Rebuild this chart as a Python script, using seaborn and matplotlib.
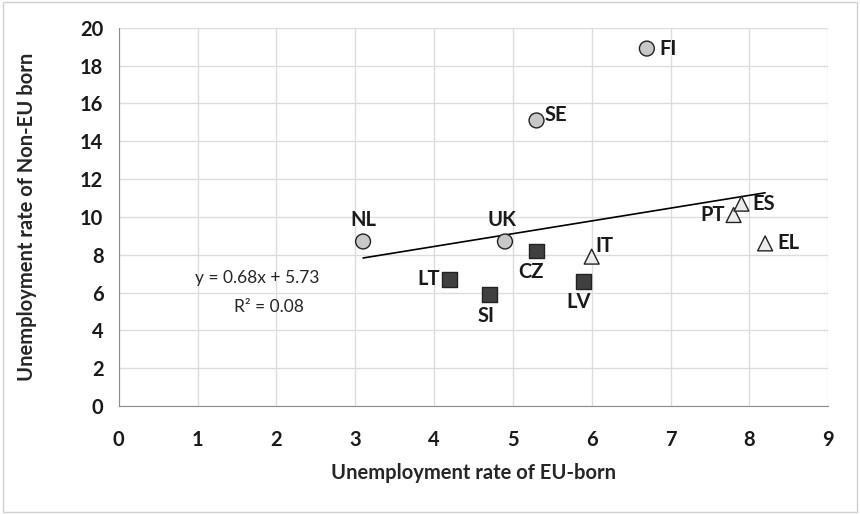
import numpy as np
import pandas as pd
import seaborn as sns
import matplotlib.pyplot as plt

# values
countries = ["FI", "SE", "NL", "UK", "CZ", "LT", "SI", "LV", "IT", "PT", "ES", "EL"]
eu_born = [6.7, 5.3, 3.1, 4.9, 5.3, 4.2, 4.7, 5.9, 6.0, 7.8, 7.9, 8.2]
non_eu_born = [18.9, 15.1, 8.7, 8.7, 8.2, 6.7, 5.9, 6.6, 7.9, 10.1, 10.7, 8.6]
groups = ["circle"] * 4 + ["square"] * 4 + ["triangle"] * 4

df = pd.DataFrame({"country": countries, "eu": eu_born, "noneu": non_eu_born, "group": groups})

sns.set_style("white")
plt.rcParams["font.family"] = ["Lato", "DejaVu Sans"]

fig = plt.figure(figsize=(8.6, 5.14), dpi=100)
ax = fig.add_axes([0.138, 0.21, 0.825, 0.736])

markers = {"circle": "o", "square": "s", "triangle": "^"}
colors = {"circle": "#c8c8c8", "square": "#404040", "triangle": "#ebebeb"}
sns.scatterplot(data=df, x="eu", y="noneu", hue="group", style="group",
                markers=markers, palette=colors, s=115, edgecolor="#222222",
                linewidth=1.0, legend=False, ax=ax, zorder=3)

# linear trend over the data range
slope, intercept = np.polyfit(df["eu"], df["noneu"], 1)
xs = np.array([df["eu"].min(), df["eu"].max()])
ax.plot(xs, slope * xs + intercept, color="black", lw=1.2, zorder=2)

bold_size = 14.5

# point labels: (dx, dy) in points, alignment
offsets = {
    "FI": (9, 0, "left", "center"),
    "SE": (6, 4, "left", "center"),
    "NL": (0, 8, "center", "bottom"),
    "UK": (-2, 8, "center", "bottom"),
    "CZ": (-4, -8, "center", "top"),
    "LT": (-7, 0, "right", "center"),
    "SI": (-2, -8, "center", "top"),
    "LV": (-4, -8, "center", "top"),
    "IT": (3, 8, "left", "center"),
    "PT": (-6, 0, "right", "center"),
    "ES": (8, 0, "left", "center"),
    "EL": (9, 0, "left", "center"),
}
for c, x, y in zip(countries, eu_born, non_eu_born):
    dx, dy, ha, va = offsets[c]
    ax.annotate(c, (x, y), xytext=(dx, dy), textcoords="offset points",
                ha=ha, va=va, fontsize=bold_size, fontweight="bold", color="#1a1a1a")

ax.text(1.76, 6.75, "y = 0.68x + 5.73", ha="center", va="center", fontsize=12.5)
ax.text(1.9, 5.25, "R² = 0.08", ha="center", va="center", fontsize=12.5)

ax.set_xlim(0, 9)
ax.set_ylim(0, 20)
ax.set_xticks(range(0, 10))
ax.set_yticks(range(0, 21, 2))
ax.grid(True, color="#dcdcdc", lw=1)
ax.set_axisbelow(True)
for s in ["top", "right"]:
    ax.spines[s].set_visible(False)
for s in ["left", "bottom"]:
    ax.spines[s].set_color("#8c8c8c")
ax.tick_params(axis="both", direction="out", length=5, color="#8c8c8c",
               labelsize=bold_size, labelcolor="#1a1a1a")
ax.tick_params(axis="x", pad=12)
ax.tick_params(axis="y", pad=6)
for lab in ax.get_xticklabels() + ax.get_yticklabels():
    lab.set_fontweight("bold")
ax.set_xlabel("Unemployment rate of EU-born", fontsize=bold_size, fontweight="bold")
ax.set_ylabel("Unemployment rate of Non-EU born", fontsize=bold_size, fontweight="bold")
ax.xaxis.set_label_coords(0.5, -0.15)
ax.yaxis.set_label_coords(-0.115, 0.5)

# outer chart border
fig.patches.append(plt.Rectangle((0.003, 0.004), 0.994, 0.992, transform=fig.transFigure,
                                 fill=False, edgecolor="#d0d0d0", lw=1))

fig.savefig("out.png", dpi=100)
